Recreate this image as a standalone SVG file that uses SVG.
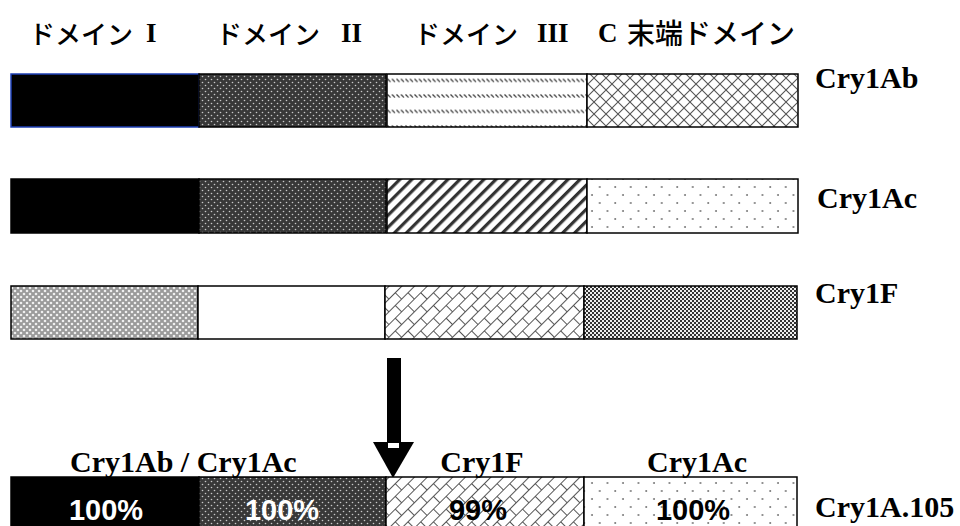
<svg xmlns="http://www.w3.org/2000/svg" width="960" height="526" viewBox="0 0 960 526">
<style>
.jp{font-family:"Noto Sans CJK JP","Liberation Serif",serif;font-size:26px;font-weight:500;fill:#000}
.rn{font-family:"Liberation Serif",serif;font-size:27px;font-weight:bold;fill:#000}
.lbl{font-family:"Liberation Serif","DejaVu Serif",serif;font-size:30px;font-weight:bold;fill:#000}
.pct{font-family:"Liberation Sans",Arial,sans-serif;font-size:29px;font-weight:bold;text-anchor:middle}
.seg{stroke:#000;stroke-width:1.5}
</style>
<defs>
<pattern id="pDarkDots" width="6" height="6" patternUnits="userSpaceOnUse">
<rect width="6" height="6" fill="#383838"/>
<circle cx="1.5" cy="1.5" r="0.8" fill="#c8c8c8"/>
<circle cx="4.5" cy="4.5" r="0.8" fill="#c8c8c8"/>
</pattern>
<pattern id="pDashRows" width="4.5" height="15.5" patternUnits="userSpaceOnUse">
<rect width="4.5" height="15.5" fill="#fff"/>
<line x1="0.5" y1="1.5" x2="3.5" y2="4.5" stroke="#333" stroke-width="1.2"/>
</pattern>
<pattern id="pCross" width="12" height="12" patternUnits="userSpaceOnUse">
<rect width="12" height="12" fill="#fff"/>
<path d="M0,0 L12,12 M12,0 L0,12" stroke="#555" stroke-width="1.1"/>
</pattern>
<pattern id="pStripes" width="8.5" height="8.5" patternUnits="userSpaceOnUse" patternTransform="rotate(45)">
<rect width="8.5" height="8.5" fill="#fff"/>
<rect width="3.2" height="8.5" fill="#333"/>
</pattern>
<pattern id="pSparse" width="15.5" height="16" patternUnits="userSpaceOnUse">
<rect width="15.5" height="16" fill="#fff"/>
<circle cx="3" cy="3" r="0.9" fill="#666"/>
<circle cx="10.75" cy="11" r="0.9" fill="#666"/>
</pattern>
<pattern id="pDiamond" width="6" height="6" patternUnits="userSpaceOnUse">
<rect width="6" height="6" fill="#9a9a9a"/>
<circle cx="0" cy="0" r="1.3" fill="#eee"/>
<circle cx="6" cy="0" r="1.3" fill="#eee"/>
<circle cx="0" cy="6" r="1.3" fill="#eee"/>
<circle cx="6" cy="6" r="1.3" fill="#eee"/>
<circle cx="3" cy="3" r="1.3" fill="#eee"/>
</pattern>
<pattern id="pBrick" width="18" height="18" patternUnits="userSpaceOnUse" patternTransform="rotate(-45)">
<rect width="18" height="18" fill="#fff"/>
<path d="M0,0.5 H18 M0,9.5 H18 M0.5,0.5 V9.5 M9.5,9.5 V18" stroke="#555" stroke-width="1"/>
</pattern>
<pattern id="pChecker" width="4" height="4" patternUnits="userSpaceOnUse">
<rect width="4" height="4" fill="#eee"/>
<rect width="2" height="2" fill="#333"/>
<rect x="2" y="2" width="2" height="2" fill="#333"/>
</pattern>
</defs>

<g id="header">
<text class="jp" x="29" y="44">ドメイン</text><text class="rn" x="146" y="42">I</text>
<text class="jp" x="216" y="44">ドメイン</text><text class="rn" x="341" y="42">II</text>
<text class="jp" x="414" y="44">ドメイン</text><text class="rn" x="537" y="42">III</text>
<text class="rn" x="598" y="42">C</text><text class="jp" x="627" y="44" style="font-size:28px">末端ドメイン</text>
</g>

<g id="cry1ab">
<rect x="11" y="74" width="188" height="53" fill="#000" stroke="#1e3fb4" stroke-width="1.5"/>
<rect class="seg" x="199" y="74" width="187" height="53" fill="url(#pDarkDots)"/>
<rect class="seg" x="387" y="74" width="200" height="53" fill="url(#pDashRows)"/>
<rect class="seg" x="587" y="74" width="211" height="53" fill="url(#pCross)"/>
<text class="lbl" x="815" y="88">Cry1Ab</text>
</g>

<g id="cry1ac">
<rect class="seg" x="11" y="179" width="188" height="54" fill="#000"/>
<rect class="seg" x="199" y="179" width="187" height="54" fill="url(#pDarkDots)"/>
<rect class="seg" x="387" y="179" width="200" height="54" fill="url(#pStripes)"/>
<rect class="seg" x="587" y="179" width="211" height="54" fill="url(#pSparse)"/>
<text class="lbl" x="817" y="208">Cry1Ac</text>
</g>

<g id="cry1f">
<rect class="seg" x="11" y="286" width="187" height="53" fill="url(#pDiamond)"/>
<rect class="seg" x="198" y="286" width="187" height="53" fill="#fff"/>
<rect class="seg" x="385" y="286" width="199" height="53" fill="url(#pBrick)"/>
<rect class="seg" x="584" y="286" width="213" height="53" fill="url(#pChecker)"/>
<text class="lbl" x="815" y="303">Cry1F</text>
</g>

<g id="connectors">
<rect x="387" y="358" width="14" height="86" fill="#000"/>
<polygon points="373,442 414,442 393,478" fill="#000"/>
<rect x="388" y="443" width="11" height="5" fill="#fff"/>
</g>

<g id="cry1a105">
<rect class="seg" x="11" y="477" width="188" height="60" fill="#000"/>
<rect class="seg" x="199" y="477" width="187" height="60" fill="url(#pDarkDots)"/>
<rect class="seg" x="386" y="477" width="198" height="60" fill="url(#pBrick)"/>
<rect class="seg" x="584" y="477" width="213" height="60" fill="url(#pSparse)"/>
<text class="lbl" x="70" y="472">Cry1Ab / Cry1Ac</text>
<text class="lbl" x="482" y="472" text-anchor="middle">Cry1F</text>
<text class="lbl" x="697" y="472" text-anchor="middle">Cry1Ac</text>
<text class="pct" x="106" y="520" fill="#fff">100%</text>
<text class="pct" x="282" y="520" fill="#fff">100%</text>
<text class="pct" x="478" y="520" fill="#000">99%</text>
<text class="pct" x="693" y="520" fill="#000">100%</text>
<text class="lbl" x="815" y="517">Cry1A.105</text>
</g>
</svg>
